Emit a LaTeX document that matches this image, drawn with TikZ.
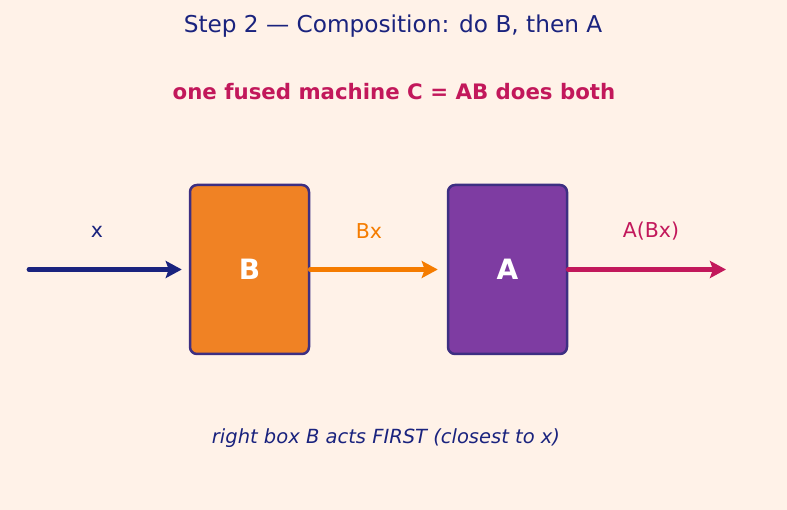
\documentclass[tikz,border=0pt]{standalone}
\usepackage{fontspec}
\setmainfont{DejaVu Sans}
\usetikzlibrary{arrows.meta}
\definecolor{bgcream}{HTML}{FFF2E8}
\definecolor{navy}{HTML}{1A237E}
\definecolor{crimson}{HTML}{C2185B}
\definecolor{boxorange}{HTML}{F08224}
\definecolor{arrorange}{HTML}{F57C00}
\definecolor{boxpurple}{HTML}{7E3CA2}
\definecolor{boxedge}{HTML}{3D2F82}
\tikzset{
  machine/.style={draw=boxedge, line width=2.5pt, rounded corners=7pt,
    minimum width=119pt, minimum height=169pt, text=white,
    font=\fontsize{28}{30}\selectfont\bfseries},
  flow/.style={line width=4.8pt, line cap=round,
    arrows={-Stealth[length=16pt 0,width=17pt 0,inset=3pt 0]}},
  flowlabel/.style={font=\fontsize{20.5}{24}\selectfont}
}

\begin{document}
\begin{tikzpicture}[x=1pt,y=-1pt]
\fill[bgcream] (0,0) rectangle (787,510);
\useasboundingbox (0,0) rectangle (787,510);
\node[text=navy, font=\fontsize{23.2}{26}\selectfont] (title) at (393,26.5) {Step 2 — Composition: do B, then A};
\node[text=crimson, font=\fontsize{21.3}{24}\selectfont\bfseries] (fused) at (394,91.5) {one fused machine C = AB does both};
\node[machine, fill=boxorange] (B) at (249.5,269.5) {B};
\node[machine, fill=boxpurple] (A) at (507.5,269.5) {A};
\coordinate (xin) at (29,269.5);
\coordinate (xout) at (726,269.5);
\draw[flow, navy, shorten >=7pt] (xin) -- (B.west);
\draw[flow, arrorange, shorten >=9pt] (B.east) -- (A.west);
\draw[flow, crimson] (A.east) -- (xout);
\node[flowlabel, text=navy] (xlab) at (97,231.5) {x};
\node[flowlabel, text=arrorange] (bxlab) at (369,231.5) {Bx};
\node[flowlabel, text=crimson] (abxlab) at (651,231.5) {A(Bx)};
\node[text=navy, font=\fontsize{19.5}{23}\selectfont\itshape] (note) at (386,438) {right box B acts FIRST (closest to x)};
\end{tikzpicture}
\end{document}
